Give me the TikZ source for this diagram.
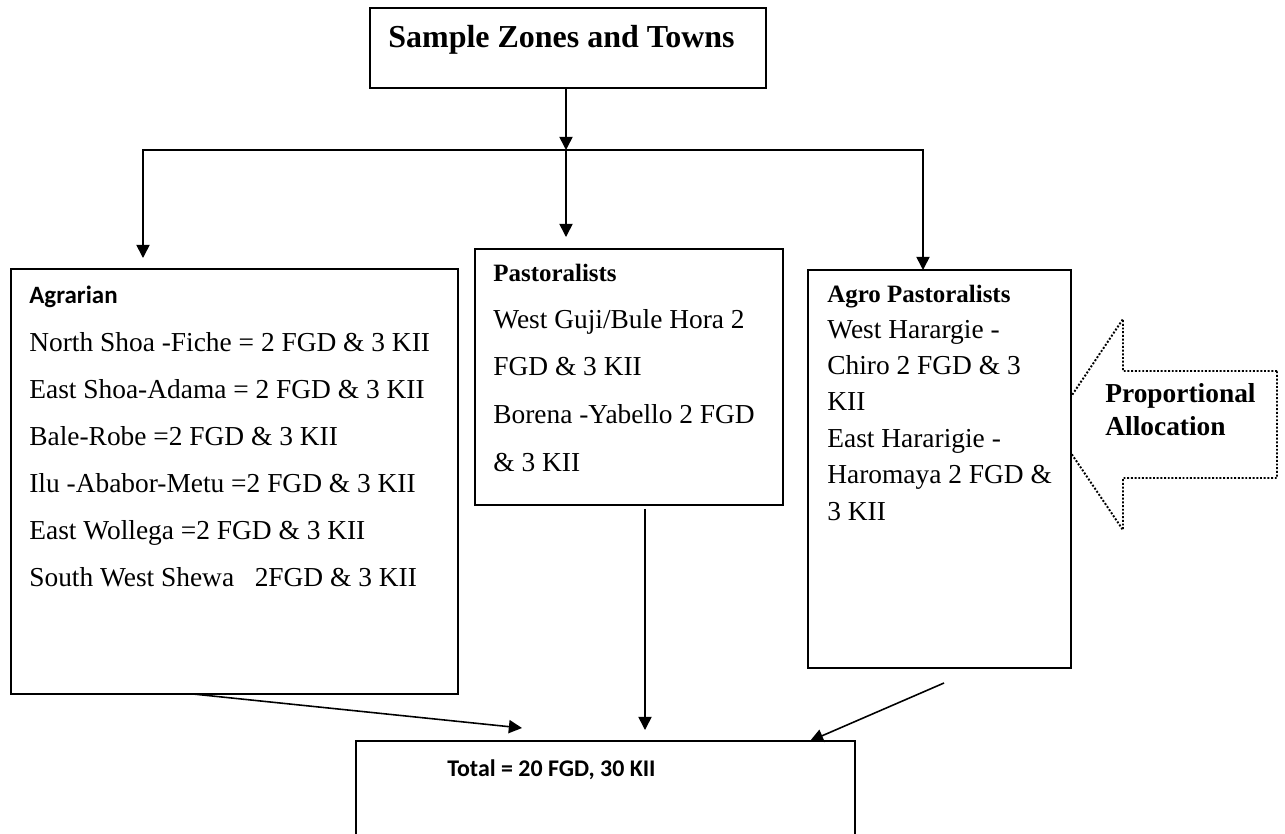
\documentclass[tikz,border=0pt]{standalone}
\usepackage{fontspec}
\setmainfont{Liberation Serif}
\newfontfamily\calibri{Carlito}
\usetikzlibrary{arrows.meta}

\begin{document}
\begin{tikzpicture}[
  x=0.02cm, y=-0.02cm,
  every node/.style={inner sep=0pt},
  box/.style={draw, line width=0.9pt, fill=white},
  body/.style={anchor=base west, font=\fontsize{15.6}{18}\selectfont},
  head/.style={anchor=base west, font=\bfseries\fontsize{14.2}{17}\selectfont},
  sanshead/.style={anchor=base west, font=\calibri\bfseries\fontsize{14.2}{17}\selectfont},
  arr/.style={-{Triangle[length=7.5pt,width=7.5pt]}, line width=0.9pt},
  dotline/.style={line width=1.1pt, dash pattern=on 1.1pt off 1pt}
]
\useasboundingbox (0,0) rectangle (1285,833);
\clip (0,0) rectangle (1285,833);

% Allocation arrow (tip sits behind the box)
\draw[dotline] (1277,371) -- (1123,371) -- (1123,319) -- (1052,425)
  -- (1123,530) -- (1123,478) -- (1277,478) -- cycle;
\node[anchor=base west, font=\bfseries\fontsize{15.6}{18}\selectfont] (propA) at (1105,402) {Proportional};
\node[anchor=base west, font=\bfseries\fontsize{15.6}{18}\selectfont] (propB) at (1105,435) {Allocation};

% Boxes
\node[box, minimum width=7.92cm, minimum height=1.6cm] (top) at (568,48) {};
\node[box, minimum width=8.94cm, minimum height=8.5cm] (agr) at (234.5,481.5) {};
\node[box, minimum width=6.16cm, minimum height=5.12cm] (past) at (629,377) {};
\node[box, minimum width=5.26cm, minimum height=7.96cm] (agro) at (939.5,469) {};
\node[box, minimum width=9.98cm, minimum height=3cm] (total) at (605.5,816) {};

% Texts
\node[anchor=base west, font=\bfseries\fontsize{18.2}{21}\selectfont] (title) at (388,47) {Sample Zones and Towns};

\node[sanshead] (agr-h) at (29,303) {Agrarian};
\foreach \t [count=\i] in {North Shoa -Fiche = 2 FGD \& 3 KII,
    East Shoa-Adama = 2 FGD \& 3 KII,
    Bale-Robe =2 FGD \& 3 KII,
    Ilu -Ababor-Metu =2 FGD \& 3 KII,
    East Wollega =2 FGD \& 3 KII,
    South West Shewa\ \ \ 2FGD \& 3 KII}
  \node[body] (agr-\i) at (29,{351+47*(\i-1)}) {\t};

\node[head] (past-h) at (493,281) {Pastoralists};
\foreach \t [count=\i] in {West Guji/Bule Hora 2, FGD \& 3 KII,
    Borena -Yabello 2 FGD, \& 3 KII}
  \node[body] (past-\i) at (493,{328+47.7*(\i-1)}) {\t};

\node[head] (agro-h) at (827,302) {Agro Pastoralists};
\foreach \t [count=\i] in {West Harargie -, Chiro 2 FGD \& 3, KII,
    East Hararigie -, Haromaya 2 FGD \&, 3 KII}
  \node[body] (agro-\i) at (827,{338+36.4*(\i-1)}) {\t};

\node[sanshead, font=\calibri\bfseries\fontsize{13.6}{16}\selectfont] (total-t) at (447,776) {Total = 20 FGD, 30 KII};

% Connectors
\coordinate (split) at (566,150);
\coordinate (agrin) at (143,258);
\coordinate (pastin) at (566,237);
\coordinate (agroin) at (923,270);
\draw[arr] (top.south -| split) -- (split);
\draw[arr] (split) -| (agrin);
\draw[arr] (split) -- (pastin);
\draw[arr] (split) -| (agroin);

\coordinate (agrout) at (193,694);
\coordinate (totinA) at (522,728);
\coordinate (totinB) at (645,730);
\coordinate (agroout) at (944,683);
\coordinate (totinC) at (810,741);
\draw[arr] (agrout) -- (totinA);
\draw[arr] (totinB |- past.south) ++(0,3) -- (totinB);
\draw[arr] (agroout) -- (totinC);
\end{tikzpicture}
\end{document}
